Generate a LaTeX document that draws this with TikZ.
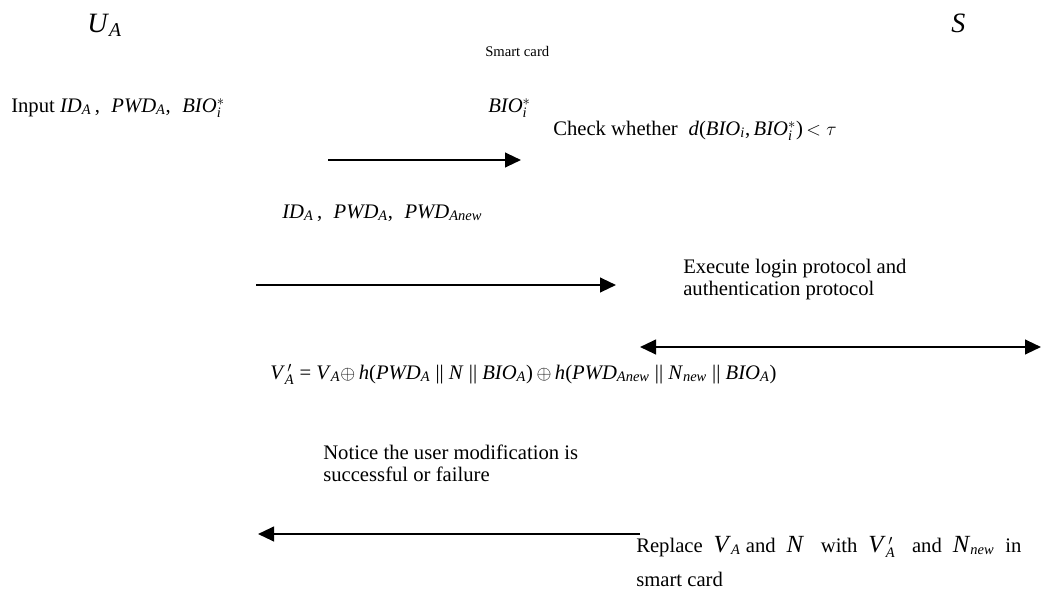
\documentclass[tikz,border=0pt]{standalone}
\usepackage{amsmath}
\usepackage{fontspec}
\setmainfont{Liberation Serif}
\usetikzlibrary{arrows.meta}
\newcommand\ii[1]{\textit{#1}}
\newcommand\bigit[1]{{\fontsize{18.5}{20}\selectfont\textit{#1}}}
\begin{document}
\begin{tikzpicture}[x=0.75pt,y=-0.75pt,
  lbl/.style={anchor=base west,inner sep=0pt,font=\fontsize{15.5}{16.5}\selectfont},
  two/.style={anchor=north west,inner sep=0pt,align=left,font=\fontsize{15.5}{16.5}\selectfont},
  msg/.style={line width=1.6pt,-{Triangle[length=12pt,width=11pt]}},
  dmsg/.style={line width=1.6pt,{Triangle[length=12pt,width=11pt]}-{Triangle[length=12pt,width=11pt]}}]
\useasboundingbox (0,0) rectangle (1041,589);
% parties
\node[lbl,font=\fontsize{21}{24}\selectfont] (ua) at (87,32) {\ii{U}$_{\ii{A}}$};
\node[lbl,font=\fontsize{11}{13}\selectfont] (sc) at (485,56) {Smart card};
\node[lbl,font=\fontsize{21}{24}\selectfont] (s) at (951,32) {\ii{S}};
% step 1
\node[lbl] (in) at (11,112) {Input \ii{ID}$_{\ii{A}}$\,,\;\;\ii{PWD}$_{\ii{A}}$,\;\;\ii{BIO}$_{\ii{i}}^{*}$};
\node[lbl] (bio) at (488,112) {\ii{BIO}$_{\ii{i}}^{*}$};
\coordinate (a1s) at (328,160);
\coordinate (a1e) at (521,160);
\draw[msg] (a1s) -- (a1e);
\node[lbl] (chk) at (553,135) {Check whether \;\ii{d}(\ii{BIO}$_{\ii{i}}$,\,\ii{BIO}$_{\ii{i}}^{*}$)\,$<\tau$};
% step 2
\node[lbl] (ids) at (282,218) {\ii{ID}$_{\ii{A}}$\,,\;\;\ii{PWD}$_{\ii{A}}$,\;\;\ii{PWD}$_{\ii{Anew}}$};
\coordinate (a2s) at (256,285);
\coordinate (a2e) at (616,285);
\draw[msg] (a2s) -- (a2e);
\node[two] (exe) at (683,259) {Execute login protocol and\\authentication protocol};
\coordinate (a3s) at (640,347);
\coordinate (a3e) at (1041,347);
\draw[dmsg] (a3s) -- (a3e);
% step 3
\node[lbl] (vf) at (270,379) {\ii{V}$_{\ii{A}}^{\,\prime}$ = \ii{V}$_{\ii{A}}\oplus$\,\ii{h}(\ii{PWD}$_{\ii{A}}$ || \ii{N} || \ii{BIO}$_{\ii{A}}$)\,$\oplus$\,\ii{h}(\ii{PWD}$_{\ii{Anew}}$ || \ii{N}$_{\ii{new}}$ || \ii{BIO}$_{\ii{A}}$)};
\node[two] (ntc) at (323,445) {Notice the user modification is\\successful or failure};
\coordinate (a4s) at (640,534);
\coordinate (a4e) at (258,534);
\draw[msg] (a4s) -- (a4e);
\node[lbl] (rep) at (636,552) {Replace \;\bigit{V}$_{\ii{A}}$ and \;\bigit{N}\;\; with \;\bigit{V}$_{\ii{A}}^{\,\prime}$\;\; and \;\bigit{N}$_{\ii{new}}$\; in};
\node[lbl] (rep2) at (636,586) {smart card};
\end{tikzpicture}
\end{document}
